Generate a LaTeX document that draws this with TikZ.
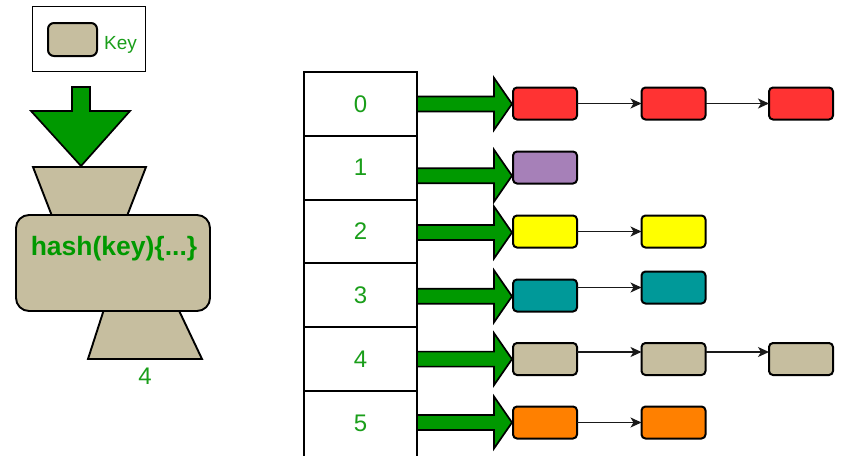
\documentclass[tikz,border=0pt]{standalone}
\usepackage{fontspec}
\setmainfont{Liberation Sans}
\usetikzlibrary{calc,arrows.meta}
\definecolor{agreen}{HTML}{009900}
\definecolor{dgreen}{HTML}{1A9E1A}
\definecolor{beige}{HTML}{C6BE9F}
\definecolor{cred}{HTML}{FF3333}
\definecolor{cpurple}{HTML}{A680B8}
\definecolor{cyellow}{HTML}{FFFF00}
\definecolor{cteal}{HTML}{009999}
\definecolor{corange}{HTML}{FF8000}
\newcommand{\fatarr}[2]{%
  \draw[fat] ($(#1.east)+(0,#2-7.5)$) -- ++(77,0) -- ++(0,-18.5) -- ++(18,26)
    -- ++(-18,26) -- ++(0,-18.5) -- ++(-77,0) -- cycle;}
\begin{document}
\begin{tikzpicture}[x=1pt,y=-1pt,
  cell/.style={draw, line width=1.9pt, minimum width=113pt, minimum height=63.8pt,
    anchor=north west, inner sep=0, outer sep=0,
    font=\fontsize{24}{24}\selectfont, text=dgreen},
  item/.style={draw, line width=2pt, rounded corners=4pt, minimum width=64pt,
    minimum height=32pt, inner sep=0, outer sep=0},
  link/.style={line width=1.3pt, draw=black!90,
    -{Stealth[length=11pt,width=10pt,inset=3pt]}},
  fat/.style={draw, line width=1.7pt, fill=agreen, line join=miter},
  trap/.style={draw, line width=1.9pt, fill=beige, line join=miter}
]
\useasboundingbox (0,0) rectangle (853,455);

% legend
\node[draw, line width=1.9pt, minimum width=113pt, minimum height=65pt,
  inner sep=0, outer sep=0, anchor=north west] (legend) at (32.5,6.5) {};
\node[item, fill=beige, minimum width=49pt, minimum height=33pt,
  rounded corners=6pt] (keybox) at (72.5,39.5) {};
\node[anchor=base west, inner sep=0, text=dgreen,
  font=\fontsize{19}{19}\selectfont] (keytext) at (104,49) {Key};

% hash function
\draw[trap] (33,167) -- (146,167) -- (127,216) -- (52,216) -- cycle;
\draw[trap] (107,300) -- (174,300) -- (202,359) -- (88,359) -- cycle;
\node[draw, fill=beige, line width=1.9pt, rounded corners=13pt,
  minimum width=194pt, minimum height=96pt, inner sep=0, outer sep=0]
  (hashbox) at (113,263) {};
\node[anchor=base, inner sep=0, text=agreen,
  font=\bfseries\fontsize{26.5}{26.5}\selectfont] (hashtext) at (114,255)
  {hash(key)\{...\}};
\draw[fat] (72,87) -- (90,87) -- (90,111) -- (130,111) -- (81,166)
  -- (31,111) -- (72,111) -- cycle;
\node[text=dgreen, inner sep=0, font=\fontsize{24}{24}\selectfont]
  (out) at (145,376) {4};

% table
\node[cell] (c0) at (304,72) {0};
\node[cell] (c1) at (c0.south west) {1};
\node[cell] (c2) at (c1.south west) {2};
\node[cell] (c3) at (c2.south west) {3};
\node[cell] (c4) at (c3.south west) {4};
\node[cell, minimum height=70pt] (c5) at (c4.south west) {};
\node[text=dgreen, inner sep=0, font=\fontsize{24}{24}\selectfont]
  (t5) at ($(c5.north)+(0,31.9)$) {5};

% buckets
\node[item, fill=cred] (b01) at (545,103.5) {};
\node[item, fill=cred] (b02) at (673.5,103.5) {};
\node[item, fill=cred] (b03) at (801,103.5) {};
\node[item, fill=cpurple] (b11) at (545,167.5) {};
\node[item, fill=cyellow] (b21) at (545,231.5) {};
\node[item, fill=cyellow] (b22) at (673.5,231.5) {};
\node[item, fill=cteal] (b31) at (545,295.5) {};
\node[item, fill=cteal] (b32) at (673.5,287.5) {};
\node[item, fill=beige] (b41) at (545,359) {};
\node[item, fill=beige] (b42) at (673.5,359) {};
\node[item, fill=beige] (b43) at (801,359) {};
\node[item, fill=corange] (b51) at (545,422.5) {};
\node[item, fill=corange] (b52) at (673.5,422.5) {};

% fat arrows
\fatarr{c0}{0}
\fatarr{c1}{8}
\fatarr{c2}{1}
\fatarr{c3}{1}
\fatarr{c4}{0}
\fatarr{c5}{-3.5}

% links
\draw[link] (b01) -- (b02);
\draw[link] (b02) -- (b03);
\draw[link] (b21) -- (b22);
\draw[link] (b31.east |- b32.west) -- (b32.west);
\draw[link] ($(b41.east)+(0,-7)$) -- ($(b42.west)+(0,-7)$);
\draw[link] ($(b42.east)+(0,-7)$) -- ($(b43.west)+(0,-7)$);
\draw[link] (b51) -- (b52);
\end{tikzpicture}
\end{document}
